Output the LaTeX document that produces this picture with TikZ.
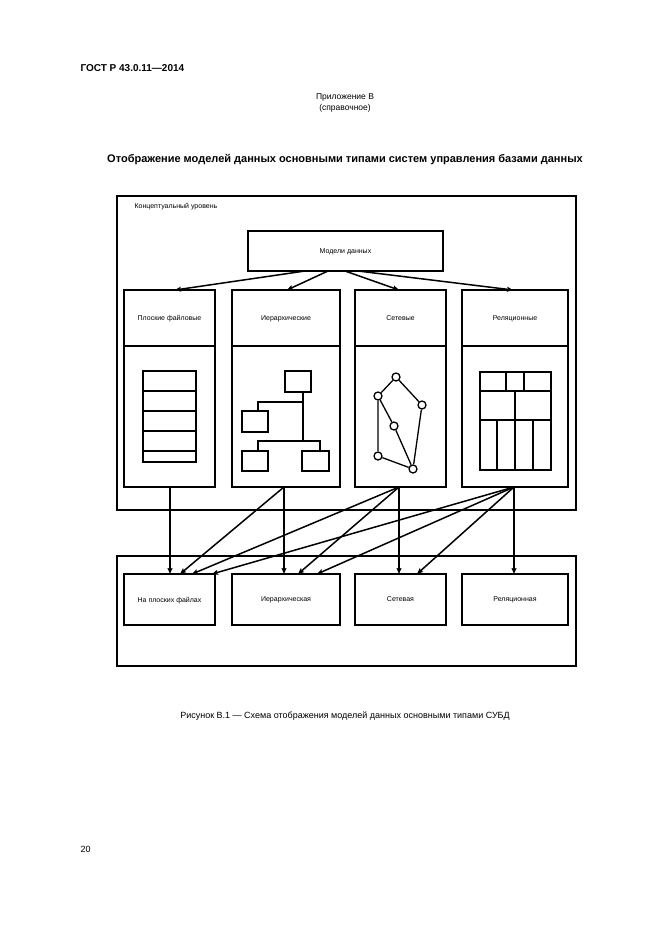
\documentclass[tikz,border=0pt]{standalone}
\usepackage{fontspec}
\setmainfont{Liberation Sans}
\usetikzlibrary{arrows.meta}
\begin{document}
\begin{tikzpicture}[x=1pt,y=-1pt,
  box/.style={draw,line width=1.7pt,inner sep=0pt},
  thin/.style={line width=1.3pt},
  arr/.style={line width=1.5pt,-{Stealth[length=6pt,width=5pt,inset=1pt]}},
  lbl/.style={font=\fontsize{7}{8}\selectfont,text depth=0pt},
  vtx/.style={circle,draw,line width=1.3pt,minimum size=8pt,inner sep=0pt,fill=white}]
\useasboundingbox[fill=white] (0,0) rectangle (661,935);
\node[anchor=west,font=\bfseries\fontsize{10}{12}\selectfont] (hdr) at (77,68) {ГОСТ Р 43.0.11—2014};
\node[font=\fontsize{8.5}{11}\selectfont,align=center] (app) at (345,103) {Приложение В\\(справочное)};
\node[font=\bfseries\fontsize{11}{13}\selectfont] (ttl) at (345,160) {Отображение моделей данных основными типами систем управления базами данных};
\node[font=\fontsize{9}{11}\selectfont] (cap) at (345,716) {Рисунок В.1 — Схема отображения моделей данных основными типами СУБД};
\node[anchor=west,font=\fontsize{9}{11}\selectfont] (pg) at (77,849) {20};
% outer boxes
\draw[box] (117,196) rectangle (576,510);
\draw[box] (117,556) rectangle (576,666);
\node[anchor=west,lbl] (conc) at (131,206) {Концептуальный уровень};
\node[box,minimum width=195pt,minimum height=40pt,lbl] (md) at (345.5,251) {Модели данных};
% columns
\foreach \n/\a/\b/\t in {c1/124/215/Плоские файловые,c2/232/340/Иерархические,c3/355/446/Сетевые,c4/462/568/Реляционные}{
  \draw[box] (\a,290) rectangle (\b,487);
  \draw[box] (\a,346) -- (\b,346);
  \node[lbl] (\n) at ({(\a+\b)/2},318) {\t};
}
\foreach \n/\a/\b/\t in {d1/124/215/На плоских файлах,d2/232/340/Иерархическая,d3/355/446/Сетевая,d4/462/568/Реляционная}{
  \node[box,lbl,minimum width={\b-\a},minimum height=51pt] (\n) at ({(\a+\b)/2},599.5) {\t};
}
% arrows from model box
\draw[arr] (305,271) -- (175,290);
\draw[arr] (328,271) -- (287,290);
\draw[arr] (345,271) -- (399,290);
\draw[arr] (358,271) -- (513,290);
% bottom arrows
\coordinate (b1) at (170,487); \coordinate (b2) at (284,487);
\coordinate (b3) at (399,487); \coordinate (b4) at (514,487);
\draw[arr] (b1) -- (170,574);
\draw[arr] (b2) -- (284,574);
\draw[arr] (b3) -- (399,574);
\draw[arr] (b4) -- (514,574);
\draw[arr] (b2) -- (180,574);
\draw[arr] (b3) -- (192,574);
\draw[arr] (b3) -- (298,574);
\draw[arr] (b4) -- (212,574);
\draw[arr] (b4) -- (317,574);
\draw[arr] (b4) -- (417,574);
% icon 1
\draw[line width=1.6pt] (143,371) rectangle (196,462);
\foreach \y in {391,411,431,451} \draw[thin] (143,\y) -- (196,\y);
% icon 2
\draw[thin] (285,371) rectangle (311,392);
\draw[line width=1.7pt] (242,411) rectangle (268,432);
\draw[thin] (242,451) rectangle (268,471);
\draw[thin] (302,451) rectangle (329,471);
\draw[thin] (303,392) -- (303,441);
\draw[thin] (258,411) -- (258,402) -- (303,402);
\draw[thin] (258,451) -- (258,441) -- (320,441) -- (320,451);
% icon 3
\node[vtx] (A) at (396,377) {};
\node[vtx] (B) at (378,396) {};
\node[vtx] (C) at (422,405) {};
\node[vtx] (D) at (394,426) {};
\node[vtx] (E) at (378,456) {};
\node[vtx] (F) at (413,469) {};
\draw[thin] (A)--(B) (A)--(C) (B)--(D) (B)--(E) (D)--(F) (C)--(F) (E)--(F);
% icon 4
\draw[line width=1.6pt] (480,372) rectangle (551,470);
\draw[thin] (480,391) -- (551,391);
\draw[thin] (506,372) -- (506,391) (524,372) -- (524,391);
\draw[line width=1.7pt] (480,420) -- (551,420);
\draw[thin] (515,391) -- (515,420);
\draw[thin] (497,420) -- (497,470) (515,420) -- (515,470) (533,420) -- (533,470);
\end{tikzpicture}
\end{document}
